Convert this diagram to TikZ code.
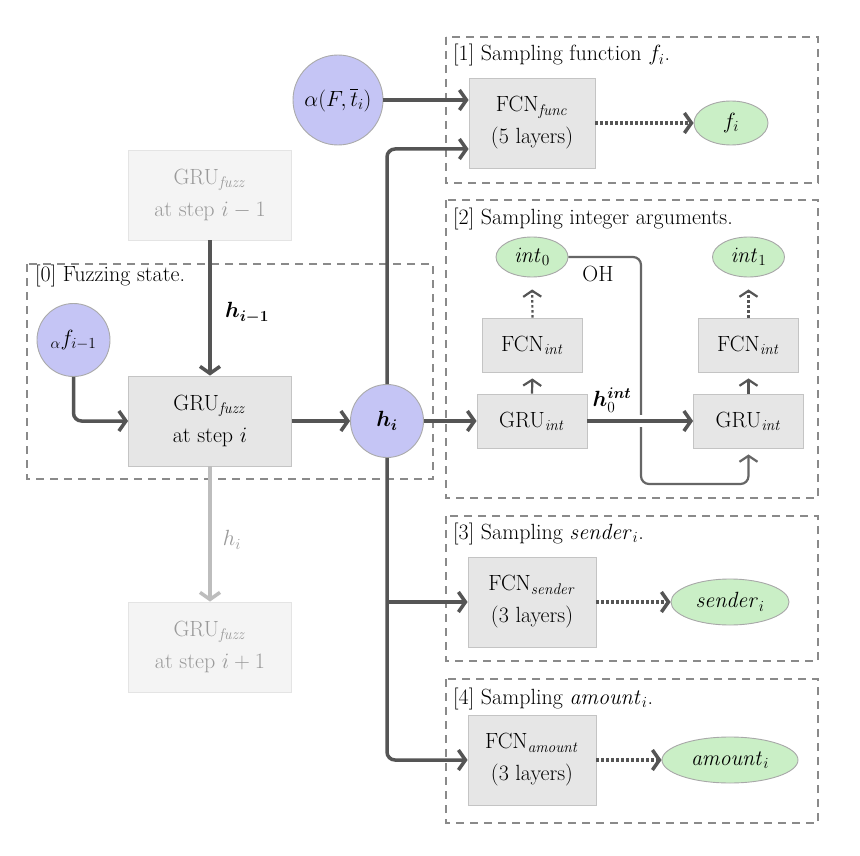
\RequirePackage{fix-cm}
\documentclass[tikz,border=0pt]{standalone}
\usepackage{amsmath,bm}
\usetikzlibrary{arrows.meta,calc,shapes.geometric}
\definecolor{arrc}{HTML}{555555}
\definecolor{boxf}{HTML}{E6E6E6}
\definecolor{boxb}{HTML}{C4C4C4}
\definecolor{fadef}{HTML}{F4F4F4}
\definecolor{fadeb}{HTML}{E4E4E4}
\definecolor{fadet}{HTML}{9A9A9A}
\definecolor{fadea}{HTML}{BDBDBD}
\definecolor{circf}{HTML}{C5C5F5}
\definecolor{circb}{HTML}{AAAAAA}
\definecolor{ellf}{HTML}{CAEFC6}
\definecolor{ellb}{HTML}{A8A8A8}
\definecolor{frc}{HTML}{8A8A8A}
\definecolor{ohc}{HTML}{666666}
\tikzset{
  every node/.style={font=\fontsize{22}{32}\selectfont},
  box/.style={draw=boxb, fill=boxf, line width=0.9pt, align=center, inner sep=0pt},
  fbox/.style={box, draw=fadeb, fill=fadef, text=fadet},
  circ/.style={circle, draw=circb, fill=circf, line width=0.9pt, inner sep=0pt},
  ell/.style={ellipse, draw=ellb, fill=ellf, line width=0.9pt, inner sep=1pt},
  frame/.style={draw=frc, line width=1.2pt, dash pattern=on 8pt off 6pt},
  title/.style={anchor=base west, inner sep=0pt},
  arr/.style={draw=arrc, line width=3.5pt, -{Straight Barb[length=7pt,width=20pt]}},
  darr/.style={arr, dash pattern=on 3pt off 2pt},
  farr/.style={arr, draw=fadea},
  tarr/.style={draw=arrc, line width=2.2pt, shorten >=6pt, -{Straight Barb[length=6pt,width=18pt]}},
  tdarr/.style={tarr, dash pattern=on 2.5pt off 2.5pt, shorten >=12pt},
  ohl/.style={draw=ohc, line width=2.2pt, rounded corners=8pt, shorten >=6pt, -{Straight Barb[length=6pt,width=18pt]}}
}
\begin{document}
\begin{tikzpicture}[x=1pt,y=-1pt]
\useasboundingbox[fill=white] (0,0) rectangle (860,856);

% frames
\draw[frame] (446,37) rectangle (818,183);
\draw[frame] (446,200) rectangle (818,498);
\draw[frame] (446,516) rectangle (818,661);
\draw[frame] (446,679) rectangle (818,823);
\draw[frame] (27,264) rectangle (433,479);

% titles
\node[title] (t1) at (453,61) {[1] Sampling function $f_i$.};
\node[title] (t0) at (35,281) {[0] Fuzzing state.};
\node[title] (t2) at (453,225) {[2] Sampling integer arguments.};
\node[title] (t3) at (453,539) {[3] Sampling $\mathit{sender}_i$.};
\node[title] (t4) at (453,704) {[4] Sampling $\mathit{amount}_i$.};

% left column
\node[fbox, minimum width=163pt, minimum height=90pt] (gprev) at (210,195) {GRU$_{\mathit{fuzz}}$\\at step $i-1$};
\node[box, minimum width=163pt, minimum height=90pt] (gru) at (210,421) {GRU$_{\mathit{fuzz}}$\\at step $i$};
\node[fbox, minimum width=163pt, minimum height=90pt] (gnext) at (210,647) {GRU$_{\mathit{fuzz}}$\\at step $i+1$};
\node[circ, minimum size=73pt] (af) at (73.5,340) {${}_{\alpha}f_{i-1}$};
\node[circ, minimum size=73pt] (hi) at (387,421) {$\bm{h_i}$};
\node[circ, minimum size=90pt] (alpha) at (338,100) {$\alpha(F,\overline{t}_i)$};

% [1]
\node[box, minimum width=126pt, minimum height=90pt] (fcnf) at (532,123) {FCN$_{\mathit{func}}$\\(5 layers)};
\node[ell, minimum width=74pt, minimum height=44pt] (fi) at (731,123) {$f_i$};

% [2]
\node[ell, minimum width=72pt, minimum height=40pt] (int0) at (532,257) {$\mathit{int}_0$};
\node[ell, minimum width=72pt, minimum height=40pt] (int1) at (748.5,257) {$\mathit{int}_1$};
\node[box, minimum width=100pt, minimum height=54pt] (fcn0) at (532.5,345) {FCN$_{\mathit{int}}$};
\node[box, minimum width=100pt, minimum height=54pt] (fcn1) at (748.5,345) {FCN$_{\mathit{int}}$};
\node[box, minimum width=110pt, minimum height=54pt] (gru0) at (532,421) {GRU$_{\mathit{int}}$};
\node[box, minimum width=110pt, minimum height=54pt] (gru1) at (748.5,421) {GRU$_{\mathit{int}}$};
\node (loh) at (598,274) {OH};
\node[inner sep=1pt] (lh0) at (612,400) {$\bm{h}_0^{\bm{int}}$};

% [3]
\node[box, minimum width=128pt, minimum height=90pt] (fcns) at (532,602) {FCN$_{\mathit{sender}}$\\(3 layers)};
\node[ell, minimum width=118pt, minimum height=46pt] (sendi) at (730,602) {$\mathit{sender}_i$};

% [4]
\node[box, minimum width=128pt, minimum height=90pt] (fcna) at (532,760) {FCN$_{\mathit{amount}}$\\(3 layers)};
\node[ell, minimum width=136pt, minimum height=46pt] (amti) at (730,760) {$\mathit{amount}_i$};

% labels left
\node (lhprev) at (247,313) {$\bm{h_{i-1}}$};
\node[text=fadet] (lhi) at (232,540) {$h_i$};

% connectors left
\draw[arr] (gprev.south) -- (gru.north);
\draw[arr, rounded corners=8pt] (af.south) |- (gru.west);
\draw[arr] (gru.east) -- (hi.west);
\draw[farr] (gru.south) -- (gnext.north);

% connectors from h_i
\draw[arr] (alpha.east) -- (alpha.east -| fcnf.west);
\draw[arr, rounded corners=8pt] (hi.north) |- ($(fcnf.west)+(0,26)$);
\coordinate (brS) at (hi.south |- fcns.west);
\draw[arr, rounded corners=8pt] (hi.south) |- (fcna.west);
\draw[arr] (brS) -- (fcns.west);
\draw[darr] (fcnf.east) -- (fi.west);
\draw[darr] (fcns.east) -- (sendi.west);
\draw[darr] (fcna.east) -- (amti.west);

% [2] connectors
\draw[arr] (hi.east) -- (gru0.west);
\draw[tarr] (gru0.north) -- (fcn0.south);
\draw[tarr] (gru1.north) -- (fcn1.south);
\draw[tdarr] (fcn0.north) -- (int0.south);
\draw[tdarr] (fcn1.north) -- (int1.south);
\coordinate (ohcorner) at (641,484);
\draw[ohl] (int0.east) -| (ohcorner) -| (gru1.south);
\draw[draw=white, line width=12pt] ([xshift=-4pt]ohcorner |- gru0.east) -- ([xshift=4pt]ohcorner |- gru0.east);
\draw[arr] (gru0.east) -- (gru1.west);
\end{tikzpicture}
\end{document}
